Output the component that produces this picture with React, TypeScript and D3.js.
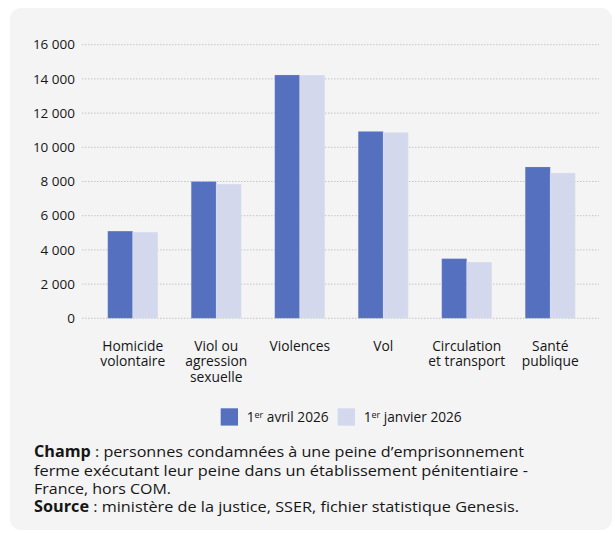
import React from "react";
import * as d3 from "d3";

const categories: string[][] = [
  ["Homicide", "volontaire"],
  ["Viol ou", "agression", "sexuelle"],
  ["Violences"],
  ["Vol"],
  ["Circulation", "et transport"],
  ["Santé", "publique"],
];
const seriesNames = ["1er avril 2026", "1er janvier 2026"];
const avril2026 = [5100, 8000, 14230, 10930, 3490, 8850];
const janvier2026 = [5040, 7850, 14220, 10870, 3290, 8500];
const yTicks = [0, 2000, 4000, 6000, 8000, 10000, 12000, 14000, 16000];
const colors = ["#5570bf", "#d3d8ec"];

const FONT = "'Open Sans', 'Noto Sans', sans-serif";
const TEXT = "#161616";

export default function App() {
  const W = 615;
  const H = 533;
  const keys = categories.map((c) => c.join(" "));
  const series = [avril2026, janvier2026];

  const y = d3.scaleLinear().domain([0, 16000]).range([318.3, 44.7]);
  const x = d3
    .scaleBand<string>()
    .domain(keys)
    .range([91, 592])
    .paddingInner(0.4)
    .paddingOuter(0.2);
  const xi = d3
    .scaleBand<number>()
    .domain([0, 1])
    .range([0, x.bandwidth()]);

  const fmt = (v: number) => d3.format(",")(v).replace(/,/g, " ");

  return (
    <div style={{ position: "absolute", left: 0, top: 0 }}>
      <svg width={W} height={H} style={{ display: "block", fontFamily: FONT }}>
        <rect x={0} y={0} width={W} height={H} fill="#ffffff" />
        <rect x={10} y={8} width={602} height={522} rx={11} fill="#f4f4f4" />

        {yTicks.map((t) => (
          <g key={t}>
            <line
              x1={82}
              x2={599}
              y1={y(t)}
              y2={y(t)}
              stroke="#c4c4c4"
              strokeWidth={1}
              strokeDasharray="1.5,1.5"
            />
            <text
              x={75}
              y={y(t)}
              dy="0.35em"
              textAnchor="end"
              fontSize={13.5}
              fill={TEXT}
            >
              {fmt(t)}
            </text>
          </g>
        ))}

        {keys.map((k, i) => (
          <g key={k} transform={`translate(${x(k)},0)`}>
            {series.map((s, j) => (
              <rect
                key={j}
                x={xi(j)}
                y={y(s[i])}
                width={xi.bandwidth()}
                height={y(0) - y(s[i])}
                fill={colors[j]}
                stroke="#ffffff"
                strokeOpacity={0.15}
                strokeWidth={1}
              />
            ))}
          </g>
        ))}

        {categories.map((lines, i) => (
          <text
            key={i}
            x={(x(keys[i]) as number) + x.bandwidth() / 2}
            y={350.5}
            textAnchor="middle"
            fontSize={13.8}
            fill={TEXT}
          >
            {lines.map((l, li) => (
              <tspan key={li} x={(x(keys[i]) as number) + x.bandwidth() / 2} dy={li === 0 ? 0 : 15.6}>
                {l}
              </tspan>
            ))}
          </text>
        ))}

        {/* Legend */}
        {seriesNames.map((name, j) => {
          const lx = j === 0 ? 220.7 : 337.7;
          return (
            <g key={name}>
              <rect x={lx} y={408.3} width={17.3} height={17.3} fill={colors[j]} />
              <text x={lx + 26} y={422} fontSize={13.7} fill={TEXT}>
                <tspan>1</tspan>
                <tspan fontSize={9} dy={-4.5}>er</tspan>
                <tspan dy={4.5}>{name.replace(/^1er/, "")}</tspan>
              </text>
            </g>
          );
        })}

        {/* Footnote */}
        <g fontSize={15.2} fill={TEXT}>
          <text x={34} y={457.3} textLength={490} lengthAdjust="spacingAndGlyphs">
            <tspan fontWeight="bold">Champ</tspan>
            <tspan> : personnes condamnées à une peine d’emprisonnement</tspan>
          </text>
          <text x={34} y={475.7} textLength={494} lengthAdjust="spacingAndGlyphs">
            ferme exécutant leur peine dans un établissement pénitentiaire -
          </text>
          <text x={34} y={494} textLength={137} lengthAdjust="spacingAndGlyphs">France, hors COM.</text>
          <text x={34} y={512.4} textLength={485} lengthAdjust="spacingAndGlyphs">
            <tspan fontWeight="bold">Source</tspan>
            <tspan> : ministère de la justice, SSER, fichier statistique Genesis.</tspan>
          </text>
        </g>
      </svg>
    </div>
  );
}
